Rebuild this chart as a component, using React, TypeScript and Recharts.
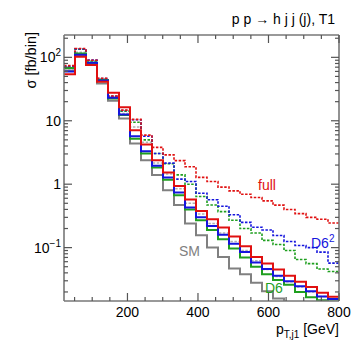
import { Line, LineChart, XAxis, YAxis } from "recharts";

// bin edges in GeV (25 bins, 20..800)
const binEdges = [
  20, 51.2, 82.4, 113.6, 144.8, 176, 207.2, 238.4, 269.6, 300.8, 332, 363.2, 394.4,
  425.6, 456.8, 488, 519.2, 550.4, 581.6, 612.8, 644, 675.2, 706.4, 737.6, 768.8, 800,
];

// sigma per bin [fb/bin]
const smSolid = [62, 108, 79, 38.8, 20.6, 10.9, 4.4, 2.39, 1.4, 0.8, 0.47, 0.24, 0.157, 0.1, 0.071, 0.047, 0.038, 0.028, 0.0205, 0.0158, 0.012, 0.0095, 0.008, 0.007, 0.006];
const smDashed = [66, 120, 84, 44, 23, 13, 8.0, 4.6, 2.15, 1.45, 0.85, 0.5, 0.34, 0.24, 0.17, 0.125, 0.09, 0.062, 0.045, 0.035, 0.029, 0.024, 0.02, 0.017, 0.0155];
const d6Solid = [68, 115, 82, 43.8, 22.5, 12.3, 5.2, 3.05, 1.83, 1.18, 0.67, 0.4, 0.27, 0.19, 0.135, 0.097, 0.07, 0.05, 0.038, 0.031, 0.026, 0.02, 0.0165, 0.0148, 0.0142];
const d6Dashed = [70, 134, 88, 45.5, 24, 14.2, 9.5, 5.0, 3.05, 2.1, 1.4, 1.0, 0.64, 0.47, 0.37, 0.27, 0.2, 0.17, 0.13, 0.112, 0.09, 0.065, 0.056, 0.046, 0.042];
const d6sqSolid = [60, 110, 82, 43, 23, 12.6, 5.7, 3.3, 1.95, 1.28, 0.74, 0.43, 0.3, 0.22, 0.16, 0.115, 0.085, 0.058, 0.046, 0.036, 0.0295, 0.0245, 0.0205, 0.017, 0.0155];
const d6sqDashed = [72, 136, 91, 46.5, 24.3, 14.5, 10.4, 5.7, 3.05, 2.15, 1.2, 1.1, 0.72, 0.57, 0.45, 0.33, 0.25, 0.21, 0.19, 0.155, 0.125, 0.108, 0.1, 0.085, 0.057];
const fullSolid = [54, 102, 76, 41.2, 27.6, 16.3, 7.1, 4.24, 2.39, 1.53, 0.94, 0.573, 0.379, 0.28, 0.207, 0.15, 0.105, 0.071, 0.056, 0.045, 0.036, 0.029, 0.024, 0.0195, 0.0168];
const fullDashed = [74, 138, 90, 46.6, 24.5, 14.7, 10.5, 5.93, 3.8, 2.9, 2.35, 1.88, 1.28, 1.1, 0.9, 0.784, 0.695, 0.616, 0.545, 0.467, 0.4, 0.344, 0.3, 0.28, 0.245];

const xTicks = [50, 100, 150, 200, 250, 300, 350, 400, 450, 500, 550, 600, 650, 700, 750, 800];
const xLabelTicks = [200, 400, 600, 800];
const yTicks = [
  0.02, 0.03, 0.04, 0.05, 0.06, 0.07, 0.08, 0.09,
  0.1, 0.2, 0.3, 0.4, 0.5, 0.6, 0.7, 0.8, 0.9,
  1, 2, 3, 4, 5, 6, 7, 8, 9,
  10, 20, 30, 40, 50, 60, 70, 80, 90,
  100, 200,
];
const yDecades = [0.1, 1, 10, 100];

const series = { smSolid, smDashed, d6Solid, d6Dashed, d6sqSolid, d6sqDashed, fullSolid, fullDashed };

// step histogram: one point per bin edge, last edge repeats the last bin
const data = binEdges.map((x, i) => {
  const row: Record<string, number> = { x };
  const k = Math.min(i, binEdges.length - 2);
  Object.entries(series).forEach(([name, vals]) => {
    row[name] = vals[k];
  });
  return row;
});

const FONT = "'Liberation Sans', Arial, Helvetica, sans-serif";
const FRAME = "#777";
const TICK = "#555";
const RED = "#e01010";
const BLUE = "#1515dd";
const GREEN = "#1f9f1f";
const GRAY = "#808080";
const FS = 14;

const decadeLabel = (v: number) => {
  if (v === 1) return <tspan>1</tspan>;
  if (v === 10) return <tspan>10</tspan>;
  const exp = v === 100 ? "2" : "\u22121";
  return (
    <>
      <tspan>10</tspan>
      <tspan dy={-6} fontSize={10}>{exp}</tspan>
    </>
  );
};

// plot frame edges in px
const PL = 64, PR = 339, PT = 35, PB = 301;

const BottomTick = ({ x, payload }: any) => {
  const major = xLabelTicks.includes(payload.value);
  return (
    <g>
      <line x1={x} y1={PB} x2={x} y2={PB - (major ? 8 : 4)} stroke={TICK} strokeWidth={1.2} />
      {major && (
        <text x={x} y={PB + 16} textAnchor="middle" fontSize={FS} fontFamily={FONT} fill="#000">
          {payload.value}
        </text>
      )}
    </g>
  );
};

const TopTick = ({ x, payload }: any) => {
  const major = xLabelTicks.includes(payload.value);
  return <line x1={x} y1={PT} x2={x} y2={PT + (major ? 8 : 4)} stroke={TICK} strokeWidth={1.2} />;
};

const LeftTick = ({ y, payload }: any) => {
  const major = yDecades.includes(payload.value);
  return (
    <g>
      <line x1={PL} y1={y} x2={PL + (major ? 8 : 4)} y2={y} stroke={TICK} strokeWidth={1.2} />
      {major && (
        <text x={PL - 3} y={y + 5} textAnchor="end" fontSize={FS} fontFamily={FONT} fill="#000">
          {decadeLabel(payload.value)}
        </text>
      )}
    </g>
  );
};

const RightTick = ({ y, payload }: any) => {
  const major = yDecades.includes(payload.value);
  return <line x1={PR} y1={y} x2={PR - (major ? 8 : 4)} y2={y} stroke={TICK} strokeWidth={1.2} />;
};

const dashed = "2.5 1.5";

export default function App() {
  return (
    <div style={{ position: "absolute", left: 0, top: 0, width: 357, height: 350, background: "#fff" }}>
      <LineChart width={357} height={350} data={data} margin={{ top: 25, right: 8, bottom: 39, left: 54 }}>
        <XAxis
          xAxisId="b"
          dataKey="x"
          type="number"
          domain={[20, 800]}
          ticks={xTicks}
          interval={0}
          height={10}
          tick={<BottomTick />}
          tickLine={false}
          axisLine={{ stroke: FRAME, strokeWidth: 1.6 }}
        />
        <XAxis
          xAxisId="t"
          orientation="top"
          dataKey="x"
          type="number"
          domain={[20, 800]}
          ticks={xTicks}
          interval={0}
          height={10}
          tick={<TopTick />}
          tickLine={false}
          axisLine={{ stroke: FRAME, strokeWidth: 1.6 }}
        />
        <YAxis
          yAxisId="l"
          scale="log"
          domain={[0.0144, 225]}
          allowDataOverflow
          ticks={yTicks}
          interval={0}
          width={10}
          tick={<LeftTick />}
          tickLine={false}
          axisLine={{ stroke: FRAME, strokeWidth: 1.6 }}
        />
        <YAxis
          yAxisId="r"
          orientation="right"
          scale="log"
          domain={[0.0144, 225]}
          allowDataOverflow
          ticks={yTicks}
          interval={0}
          width={10}
          tick={<RightTick />}
          tickLine={false}
          axisLine={{ stroke: FRAME, strokeWidth: 1.6 }}
        />
        <Line xAxisId="b" yAxisId="l" type="stepAfter" dataKey="smDashed" stroke="#b0b0b0" strokeWidth={1.5} strokeDasharray={dashed} dot={false} isAnimationActive={false} />
        <Line xAxisId="b" yAxisId="l" type="stepAfter" dataKey="d6Dashed" stroke={GREEN} strokeWidth={1.6} strokeDasharray={dashed} dot={false} isAnimationActive={false} />
        <Line xAxisId="b" yAxisId="l" type="stepAfter" dataKey="d6sqDashed" stroke={BLUE} strokeWidth={1.6} strokeDasharray={dashed} dot={false} isAnimationActive={false} />
        <Line xAxisId="b" yAxisId="l" type="stepAfter" dataKey="fullDashed" stroke={RED} strokeWidth={1.6} strokeDasharray={dashed} dot={false} isAnimationActive={false} />
        <Line xAxisId="b" yAxisId="l" type="stepAfter" dataKey="smSolid" stroke={GRAY} strokeWidth={2} dot={false} isAnimationActive={false} />
        <Line xAxisId="b" yAxisId="l" type="stepAfter" dataKey="d6Solid" stroke={GREEN} strokeWidth={2} dot={false} isAnimationActive={false} />
        <Line xAxisId="b" yAxisId="l" type="stepAfter" dataKey="d6sqSolid" stroke={BLUE} strokeWidth={2} dot={false} isAnimationActive={false} />
        <Line xAxisId="b" yAxisId="l" type="stepAfter" dataKey="fullSolid" stroke={RED} strokeWidth={2} dot={false} isAnimationActive={false} />
      </LineChart>
      <svg
        width={357}
        height={350}
        style={{ position: "absolute", left: 0, top: 0, pointerEvents: "none" }}
        fontFamily={FONT}
      >
        <text x={335} y={24} textAnchor="end" fontSize={FS} fill="#000">
          p p {"\u2192"} h j j (j), T1
        </text>
        <text transform="translate(36,32) rotate(-90)" textAnchor="end" fontSize={14.5} fill="#000">
          σ [fb/bin]
        </text>
        <text x={339} y={334} textAnchor="end" fontSize={FS} fill="#000">
          p
          <tspan dy={4} fontSize={10}>T,j1</tspan>
          <tspan dy={-4}> [GeV]</tspan>
        </text>
        <text x={258} y={190} fontSize={FS} fill={RED}>full</text>
        <text x={311} y={248} fontSize={FS} fill={BLUE}>
          D6<tspan dy={-6} fontSize={10}>2</tspan>
        </text>
        <text x={179} y={256} fontSize={FS} fill={GRAY}>SM</text>
        <text x={265} y={293} fontSize={FS} fill={GREEN}>D6</text>
      </svg>
    </div>
  );
}
